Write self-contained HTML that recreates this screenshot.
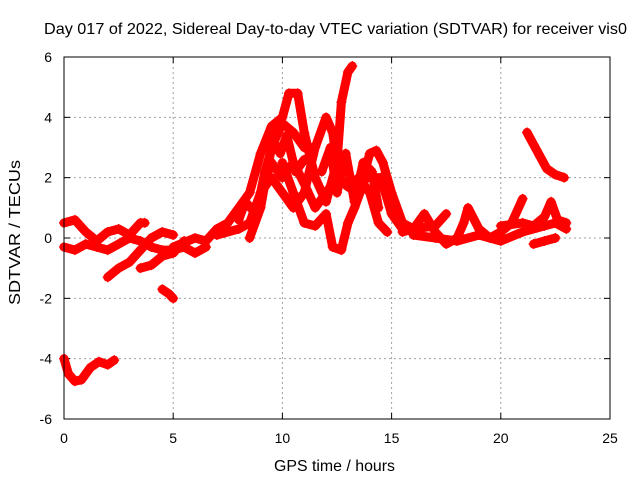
<!DOCTYPE html>
<html><head><meta charset="utf-8"><style>
body{margin:0;background:#fff;}
svg text{font-family:"Liberation Sans",sans-serif;font-size:14px;fill:#000;}
</style></head><body>
<svg id="chart" width="640" height="480" viewBox="0 0 640 480">
<rect width="640" height="480" fill="#fff"/>
<text x="44" y="34" textLength="583" lengthAdjust="spacingAndGlyphs" style="font-size:16px">Day 017 of 2022, Sidereal Day-to-day VTEC variation (SDTVAR) for receiver vis0</text>
<text x="274" y="471" textLength="121" lengthAdjust="spacingAndGlyphs" style="font-size:16px">GPS time / hours</text>
<text transform="translate(20,305) rotate(-90)" textLength="145" lengthAdjust="spacingAndGlyphs" style="font-size:16px">SDTVAR / TECUs</text>
<g id="grid"></g><g id="ticks"></g><g id="marks"></g>
<rect x="64" y="57" width="546" height="362" fill="none" stroke="#000" stroke-width="1"/>
</svg>
<script>
const xTicks=[0,5,10,15,20,25];
const yTicks=[-6,-4,-2,0,2,4,6];
const track1=[[0,-4],[0.2,-4.5],[0.5,-4.75],[0.8,-4.7],[1.2,-4.3],[1.6,-4.1],[2,-4.2],[2.3,-4.05]];
const track2=[[4.5,-1.7],[4.8,-1.85],[5,-2.0]];
const track3=[[0,0.5],[0.5,0.6],[1,0.2],[1.5,-0.1],[2,0.2],[2.5,0.3],[3,0.1],[3.5,0.5],[3.7,0.5]];
const track4=[[0,-0.3],[0.5,-0.4],[1,-0.2],[1.5,-0.3],[2,-0.4],[2.5,-0.2],[3,0.0],[3.5,-0.1],[4,-0.3],[4.5,-0.4],[5,-0.4],[5.5,-0.3],[6,-0.5],[6.5,-0.3]];
const track5=[[2,-1.3],[2.5,-1.0],[3,-0.8],[3.5,-0.4],[4,0],[4.5,0.2],[5,0.1]];
const track6=[[3.5,-1],[4,-0.9],[4.5,-0.6],[5,-0.5],[5.5,-0.1]];
const track7=[[5,-0.3],[6,0],[6.5,-0.1],[7,0.3],[7.5,0.5],[8,1.0],[8.5,1.5],[9,2.8],[9.5,3.7],[10,4.0],[10.3,4.8],[10.7,4.8],[11,3.5],[11.5,2.0],[12,1.2],[12.5,2.5],[12.7,4.5],[13,5.5],[13.2,5.7]];
const track8=[[7,0.1],[8,0.3],[8.5,0.5],[9,1.5],[9.5,2.5],[10,2.0],[10.5,2.5],[11,1.8],[11.5,1.0],[12,1.5],[12.5,2.0],[13,1.7],[13.5,1.5],[14,2.8],[14.3,2.9],[14.6,2.5],[15,1.5],[15.5,0.5],[16,0.3],[17,0.4],[17.5,0.8]];
const track9=[[8.5,0.0],[9,1.0],[9.5,3.0],[10,3.8],[10.5,3.5],[11,3.0],[11.3,3.0]];
const track10=[[10,2.5],[10.5,1.5],[11,0.5],[11.5,0.4],[12,0.8],[12.3,-0.3],[12.7,-0.4],[13,0.5],[13.3,1.0],[13.8,2.0],[14.5,2.0],[15,0.8],[15.5,0.3]];
const track11=[[9,1.5],[9.5,2.0],[10,1.5],[10.5,1.0],[11,1.5],[11.5,3.0],[12,4.0],[12.3,3.5],[12.6,2.0],[13,1.7],[13.5,2.0],[14,1.5],[14.4,0.5],[14.8,0.2]];
const track12=[[15.5,0.2],[16,0.3],[16.5,0.8],[17,0.2],[17.5,-0.2],[18,0],[18.3,0.5],[18.5,1.0],[19,0.3],[19.5,0.0],[20,0.2],[20.5,0.5],[21,1.3]];
const track13=[[16,0.1],[17,0],[18,-0.1],[19,0.1],[20,-0.1],[21,0.2],[22,0.4],[22.5,0.5],[23,0.3]];
const track14=[[20,0.4],[21,0.5],[21.5,0.4],[22,0.7],[22.3,1.2],[22.6,0.6],[23,0.5]];
const track15=[[21.5,-0.2],[22,-0.1],[22.5,0.0]];
const track16=[[21.2,3.5],[21.5,3.1],[21.8,2.7],[22.1,2.3],[22.5,2.1],[22.9,2.0]];
const track17=[[8,0.6],[8.3,1.2],[8.8,0.8],[9.2,2.2],[9.6,3.2],[9.9,2.8],[10.2,3.4],[10.6,2.2],[11,2.6]];
const track18=[[11.8,2.2],[12.2,3.0],[12.5,1.5],[12.9,2.8],[13.3,1.2],[13.7,2.5],[14.1,2.2],[14.4,1.0]];
const tracks=[track1,track2,track3,track4,track5,track6,track7,track8,track9,track10,track11,track12,track13,track14,track15,track16,track17,track18];
const NS='http://www.w3.org/2000/svg';
const X0=64,X1=610,Y0=419,Y1=57;
const xs=h=>X0+(h-0)/25*(X1-X0);
const ys=v=>Y0-(v+6)/12*(Y0-Y1);
const grid=document.getElementById('grid'),ticks=document.getElementById('ticks'),marks=document.getElementById('marks');
function mk(tag,attrs,parent){const e=document.createElementNS(NS,tag);for(const k in attrs)e.setAttribute(k,attrs[k]);parent.appendChild(e);return e;}
xTicks.forEach(t=>{const x=xs(t);
 if(t>0&&t<25){const l=mk('line',{x1:x,x2:x,y1:Y1,y2:Y0,stroke:'#a0a0a0','stroke-dasharray':'2,3'},grid);}
 mk('line',{x1:x,x2:x,y1:Y0,y2:Y0-6,stroke:'#000'},ticks);mk('line',{x1:x,x2:x,y1:Y1,y2:Y1+6,stroke:'#000'},ticks);
 const tx=mk('text',{x:x,y:443,'text-anchor':'middle'},ticks);tx.textContent=t;
 });
yTicks.forEach(t=>{const y=ys(t);
 if(t>-6&&t<6){const l=mk('line',{x1:X0,x2:X1,y1:y,y2:y,stroke:'#a0a0a0','stroke-dasharray':'2,3'},grid);}
 mk('line',{x1:X0,x2:X0+6,y1:y,y2:y,stroke:'#000'},ticks);mk('line',{x1:X1,x2:X1-6,y1:y,y2:y,stroke:'#000'},ticks);
 const tx=mk('text',{x:52,y:y+5,'text-anchor':'end'},ticks);tx.textContent=t;
 });
tracks.forEach((tr,i)=>{
 const g=mk('g',{},marks);
 
 
 mk('polyline',{points:tr.map(p=>xs(p[0])+','+ys(p[1])).join(' '),fill:'none',stroke:'#ff0000','stroke-width':9,'stroke-linejoin':'round','stroke-linecap':'round'},g);
 tr.forEach(p=>{const x=xs(p[0]),y=ys(p[1]);
  mk('path',{d:`M${x-5},${y}h10M${x},${y-5}v10`,stroke:'#ff0000','stroke-width':1.2},g);});
});
</script>
</body></html>
